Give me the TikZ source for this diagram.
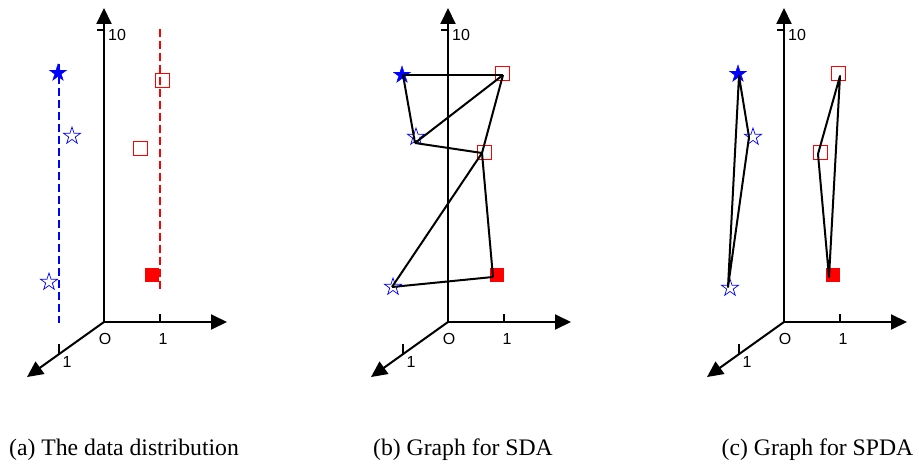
\documentclass[tikz,border=0pt]{standalone}
\usepackage{fontspec}
\setmainfont{Liberation Serif}
\newfontfamily\axfont{Liberation Sans}
\usetikzlibrary{arrows.meta,shapes.geometric}
\definecolor{pblue}{RGB}{0,0,255}
\definecolor{pred}{RGB}{255,0,0}
\tikzset{
  axisline/.style={line width=2pt,-{Triangle[length=16pt,width=15pt]}},
  tickline/.style={line width=1.6pt},
  axlabel/.style={font=\axfont\fontsize{16}{18}\selectfont,inner sep=0pt},
  caption/.style={font=\fontsize{23.7}{28}\selectfont,inner sep=0pt,anchor=base},
  fstar/.style={star,star points=5,star point ratio=2.618,minimum size=18pt,inner sep=0pt,fill=pblue,draw=pblue,line width=0.4pt},
  ostar/.style={star,star points=5,star point ratio=2.618,minimum size=18pt,inner sep=0pt,draw=pblue,line width=0.7pt},
  osq/.style={rectangle,minimum size=14pt,inner sep=0pt,draw=pred,line width=0.8pt},
  fsq/.style={rectangle,minimum size=14.5pt,inner sep=0pt,fill=pred},
  edge/.style={line width=2pt,line join=round},
  bdash/.style={line width=2pt,draw=pblue,dash pattern=on 8pt off 4pt},
  rdash/.style={line width=2pt,draw=pred,dash pattern=on 8pt off 4pt},
  axes3d/.pic={
    \coordinate (-o) at (0,0);
    \coordinate (-z) at (0,-314);
    \coordinate (-x) at (123,0);
    \coordinate (-y) at (-77,55);
    \coordinate (-tza) at (-7,-292);
    \coordinate (-tzb) at (0,-292);
    \coordinate (-txa) at (56,0);
    \coordinate (-txb) at (56,-8);
    \coordinate (-tya) at (-45,32);
    \coordinate (-tyb) at (-45,22);
    \draw[axisline] (-o) -- (-z);
    \draw[axisline] (-o) -- (-x);
    \draw[axisline] (-o) -- (-y);
    \draw[tickline] (-tza) -- (-tzb);
    \draw[tickline] (-txa) -- (-txb);
    \draw[tickline] (-tya) -- (-tyb);
    \node[axlabel,anchor=west] (-l10) at (4,-287) {10};
    \node[axlabel] (-lo) at (1,17) {O};
    \node[axlabel] (-lx) at (59,17) {1};
    \node[axlabel] (-ly) at (-37,40) {1};
  }
}
\begin{document}
\begin{tikzpicture}[x=1pt,y=-1pt]
\useasboundingbox (0,0) rectangle (919,465);
% ---------- panel (a)
\begin{scope}[shift={(104,322)}]
  \pic (pa) at (0,0) {axes3d};
  \coordinate (ba) at (-45,-258);
  \coordinate (bb) at (-45,1);
  \coordinate (ra) at (56,-293);
  \coordinate (rb) at (56,-33);
  \draw[bdash] (ba) -- (bb);
  \draw[rdash] (ra) -- (rb);
  \node[fstar] (a1) at (-46,-249) {};
  \node[ostar] (a2) at (-32,-186) {};
  \node[ostar] (a3) at (-55,-40) {};
  \node[osq] (a4) at (58,-242) {};
  \node[osq] (a5) at (36,-174) {};
  \node[fsq] (a6) at (48,-47) {};
\end{scope}
% ---------- panel (b)
\begin{scope}[shift={(448,322)}]
  \pic (pb) at (0,0) {axes3d};
  \node[fstar] (b1) at (-46,-247) {};
  \node[ostar] (b2) at (-32,-185) {};
  \node[ostar] (b3) at (-55,-35) {};
  \node[osq] (b4) at (54,-249) {};
  \node[osq] (b5) at (36,-170) {};
  \node[fsq] (b6) at (49,-47) {};
  \coordinate (vb1) at (-45,-247);
  \coordinate (vb2) at (-33,-179);
  \coordinate (vb3) at (-56,-35);
  \coordinate (vb4) at (55,-247);
  \coordinate (vb5) at (34,-169);
  \coordinate (vb6) at (45,-45);
  \draw[edge] (vb1) -- (vb4);
  \draw[edge] (vb1) -- (vb2);
  \draw[edge] (vb4) -- (vb2);
  \draw[edge] (vb2) -- (vb5);
  \draw[edge] (vb4) -- (vb5);
  \draw[edge] (vb5) -- (vb3);
  \draw[edge] (vb5) -- (vb6);
  \draw[edge] (vb3) -- (vb6);
\end{scope}
% ---------- panel (c)
\begin{scope}[shift={(784,322)}]
  \pic (pc) at (0,0) {axes3d};
  \node[fstar] (c1) at (-46,-248) {};
  \node[ostar] (c2) at (-31,-185) {};
  \node[ostar] (c3) at (-54,-34) {};
  \node[osq] (c4) at (54,-249) {};
  \node[osq] (c5) at (36,-170) {};
  \node[fsq] (c6) at (49,-47) {};
  \coordinate (vc1) at (-45,-246);
  \coordinate (vc2) at (-35,-185);
  \coordinate (vc3) at (-56,-35);
  \coordinate (vc4) at (56,-246);
  \coordinate (vc5) at (34,-168);
  \coordinate (vc6) at (45,-45);
  \draw[edge] (vc1) -- (vc2) -- (vc3) -- cycle;
  \draw[edge] (vc4) -- (vc5) -- (vc6) -- cycle;
\end{scope}
% ---------- captions
\node[caption] (capa) at (124,455) {(a) The data distribution};
\node[caption] (capb) at (463,455) {(b) Graph for SDA};
\node[caption] (capc) at (817.5,455) {(c) Graph for SPDA};
\end{tikzpicture}
\end{document}
